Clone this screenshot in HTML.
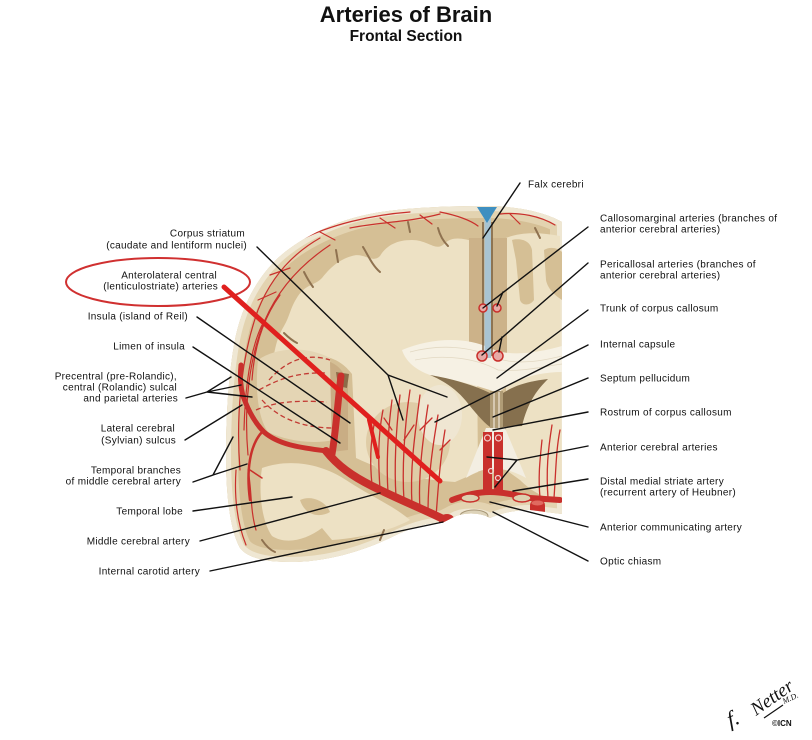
<!DOCTYPE html>
<html><head><meta charset="utf-8"><style>
html,body{margin:0;padding:0;background:#fff;}
svg{display:block;}
.t{font-family:"Liberation Sans",Arial,sans-serif;font-size:10px;letter-spacing:0.3px;fill:#111;}
.r{text-anchor:end;}
.ld{stroke:#111;stroke-width:1.4;fill:none;stroke-linecap:round;}
.v{stroke:#c9302c;fill:none;stroke-linecap:round;}
</style></head><body>
<svg width="812" height="740" viewBox="0 0 812 740" xmlns="http://www.w3.org/2000/svg">
<defs>
<clipPath id="bc"><path d="M562,222 C545,212 515,206 487,206 C455,206 410,207 375,213 C335,220 300,238 278,258 C255,280 240,310 234,345 C228,380 226,420 226,455 C226,495 230,530 240,548 C248,558 265,562 290,562 C325,562 360,552 390,538 C410,528 428,522 442,523 L452,518 C462,512 480,512 490,518 C500,514 512,510 530,510 L562,514 Z"/></clipPath>
</defs>
<rect width="812" height="740" fill="#fff"/>

<!-- Title -->
<text x="406" y="22" text-anchor="middle" style="font-family:'Liberation Sans',Arial,sans-serif;font-weight:bold;font-size:22px;fill:#111">Arteries of Brain</text>
<text x="406" y="41" text-anchor="middle" style="font-family:'Liberation Sans',Arial,sans-serif;font-weight:bold;font-size:15.5px;fill:#111">Frontal Section</text>

<!-- Brain -->
<g clip-path="url(#bc)">
<rect x="220" y="200" width="350" height="370" fill="#d5bf95"/>
<path d="M562,222 C545,212 515,206 487,206 C455,206 410,207 375,213 C335,220 300,238 278,258 C255,280 240,310 234,345 C228,380 226,420 226,455 C226,495 230,530 240,548 C248,558 265,562 290,562 C325,562 360,552 390,538 C410,528 428,522 442,523 L452,518 C462,512 480,512 490,518 C500,514 512,510 530,510 L562,514 Z" fill="none" stroke="#e3d3b0" stroke-width="24"/>
<path d="M562,222 C545,212 515,206 487,206 C455,206 410,207 375,213 C335,220 300,238 278,258 C255,280 240,310 234,345 C228,380 226,420 226,455 C226,495 230,530 240,548 C248,558 265,562 290,562 C325,562 360,552 390,538 C410,528 428,522 442,523 L452,518 C462,512 480,512 490,518 C500,514 512,510 530,510 L562,514 Z" fill="none" stroke="#efe7d3" stroke-width="10"/>

<!-- left hemisphere white matter -->
<path d="M476,242 C462,238 452,236 444,244 C436,252 428,240 412,240 C396,240 386,246 380,256 C372,264 364,252 352,256 C338,260 330,268 322,278 C314,286 306,284 298,296 C290,308 290,316 284,326 C278,336 276,344 274,354 C272,362 274,366 276,370 L300,358 C322,352 340,358 352,374 L356,458 C385,472 420,480 455,482 L478,472 Z" fill="#ede1c4"/>
<!-- operculum / insula area -->
<path d="M258,360 C275,348 305,345 330,358 L334,440 C310,445 285,440 268,432 C258,418 255,390 258,360 Z" fill="#e4d5b4"/>
<path d="M330,362 C338,365 345,372 348,385 L348,450 L332,452 Z" fill="#c9ad84"/>
<path d="M336,372 L349,374 L347,388 L338,386 Z" fill="#8c6c48"/>
<!-- basal ganglia -->
<ellipse cx="408" cy="442" rx="42" ry="40" fill="#dfcca6"/>
<ellipse cx="440" cy="415" rx="22" ry="30" fill="#efe6d2"/>
<!-- right hemisphere white matter -->
<path d="M506,238 C520,232 540,232 560,236 L562,500 C545,500 530,490 520,480 L506,470 Z" fill="#ede1c4"/>
<path d="M512,240 C520,238 530,240 532,250 L534,300 C530,306 522,306 520,300 L516,260 Z" fill="#d5bf95"/>
<path d="M544,250 C550,246 558,248 562,252 L562,300 C556,296 548,290 546,280 Z" fill="#d5bf95"/>
<!-- temporal lobe white matter -->
<path d="M262,468 C290,458 322,464 346,480 C370,496 394,506 410,520 C392,530 362,538 332,540 L322,528 C306,540 286,545 272,536 C262,522 258,492 262,468 Z" fill="#ede1c4"/>
<path d="M300,500 C310,495 325,500 330,512 C320,518 305,516 300,500 Z" fill="#d5bf95"/>
<!-- midline grey near falx -->
<rect x="469" y="238" width="38" height="118" fill="#ccb289"/>
<!-- sulci -->
<g stroke="#8f7250" stroke-width="2" fill="none" stroke-linecap="round">
<path d="M363,247 C368,255 372,265 380,272"/>
<path d="M336,250 L338,262"/>
<path d="M304,272 C307,278 310,283 313,287"/>
<path d="M284,333 C289,338 293,341 297,343"/>
<path d="M438,228 C440,236 444,242 448,246"/>
<path d="M408,222 L410,232"/>
<path d="M262,540 C266,546 270,550 275,552"/>
<path d="M380,540 L384,530"/>
<path d="M535,228 L540,238"/>
</g>
<!-- corpus callosum -->
<path d="M402,350 C430,338 465,336 490,348 C510,358 540,352 562,346 L562,372 C540,372 515,378 498,393 C480,386 455,380 430,375 C416,370 406,362 402,350 Z" fill="#f6f1e4"/>
<g stroke="#e2d8c2" stroke-width="0.8" fill="none">
<path d="M410,352 C440,344 470,346 495,358 C520,366 545,360 562,356"/>
<path d="M415,360 C445,354 475,358 498,370 C525,372 545,366 562,364"/>
</g>
<!-- ventricles -->
<path d="M430,375 C455,379 478,387 490,393 L490,427 C482,421 474,411 466,401 C456,389 444,381 430,375 Z" fill="#86704e"/>
<path d="M503,393 C515,385 530,381 548,379 C538,389 528,401 522,426 L503,427 Z" fill="#86704e"/>
<rect x="490" y="391" width="13" height="37" fill="#b09c76"/>
<line x1="494" y1="392" x2="494" y2="428" stroke="#efe7d6" stroke-width="1.2"/>
<line x1="499" y1="392" x2="499" y2="428" stroke="#efe7d6" stroke-width="1.2"/>
<!-- rostrum tent -->
<path d="M466,478 L486,428 L505,428 L526,478 C512,470 500,468 494,470 C488,468 478,470 466,478 Z" fill="#f3eee2"/>
<!-- falx -->
<line x1="483" y1="222" x2="483" y2="356" stroke="#7a5f40" stroke-width="1.5"/>
<line x1="492" y1="222" x2="492" y2="356" stroke="#7a5f40" stroke-width="1.5"/>
<rect x="484.5" y="212" width="6.5" height="146" fill="#a9c4d2"/>
<polygon points="477,207 497,207 487,223" fill="#3f8fc0"/>
<!-- callosomarginal / pericallosal -->
<g fill="#e7aaa6" stroke="#c9302c" stroke-width="1.5">
<circle cx="483" cy="308" r="4"/><circle cx="497" cy="308" r="4"/>
<circle cx="482" cy="356" r="5"/><circle cx="498" cy="356" r="5"/>
</g>
<!-- surface vessels -->
<g class="v" stroke-width="1.2">
<path d="M240,470 C236,420 240,360 258,310 C270,280 290,255 320,238"/>
<path d="M248,455 C244,410 248,360 265,320 C278,290 300,265 330,245"/>
<path d="M244,430 C245,390 250,350 262,325"/>
<path d="M252,380 C254,350 262,320 280,295"/>
<path d="M300,240 C330,225 370,215 410,212"/>
<path d="M350,228 C380,222 410,222 440,214"/>
<path d="M440,212 C455,215 470,220 478,226"/>
<path d="M500,214 C520,212 540,216 555,225"/>
<path d="M258,300 L276,292"/><path d="M270,275 L290,268"/><path d="M320,232 L335,240"/>
<path d="M380,218 L395,228"/><path d="M420,215 L432,224"/><path d="M510,214 L520,224"/>
<path d="M236,470 C234,500 238,525 246,545"/>
<path d="M248,470 C252,490 250,510 256,530"/>
</g>
<!-- dashed insula -->
<g stroke="#c23a33" stroke-width="1.3" fill="none" stroke-dasharray="5,3">
<path d="M269,380 C285,362 305,352 330,360"/>
<path d="M259,390 C280,378 300,372 327,373"/>
<path d="M256,410 C275,402 295,400 327,402"/>
<path d="M262,400 C280,420 305,428 334,428"/>
</g>
<!-- lenticulostriate -->
<g class="v" stroke-width="1.3">
<path d="M436,517 C438,490 440,460 445,430"/>
<path d="M428,513 C428,480 432,450 438,415"/>
<path d="M420,509 C418,480 422,445 428,405"/>
<path d="M412,505 C410,470 414,440 420,395"/>
<path d="M404,501 C402,470 404,430 410,390"/>
<path d="M396,497 C394,465 396,430 400,395"/>
<path d="M388,493 C386,460 388,430 392,400"/>
<path d="M380,489 C378,460 378,435 383,410"/>
<path d="M372,485 C370,465 370,445 374,425"/>
<path d="M404,440 L414,425"/><path d="M420,430 L432,418"/><path d="M392,430 L384,418"/><path d="M440,450 L450,440"/>
<path d="M548,498 C546,470 548,450 552,425"/>
<path d="M554,498 C556,470 556,450 560,430"/>
<path d="M540,498 C538,475 540,460 542,440"/>
</g>
<!-- MCA -->
<path d="M447,521 C430,512 400,500 372,486 C352,476 338,466 326,451" class="v" stroke-width="8"/>
<path d="M326,451 C305,448 280,446 264,432 C254,422 248,410 243,396 C240,385 240,375 241,365" class="v" stroke-width="5"/>
<path d="M332,454 C336,430 338,400 341,376" class="v" stroke-width="7"/>
<path d="M262,432 C250,445 246,470 250,500" class="v" stroke-width="2.5"/>
<path d="M250,470 L262,478" class="v" stroke-width="1.5"/>
<ellipse cx="447" cy="521" rx="8" ry="7" fill="#c9302c"/>
<!-- ACA -->
<path d="M452,500 C468,494 480,492 490,492 C502,492 516,495 530,498 L560,500" class="v" stroke-width="6"/>
<ellipse cx="470" cy="498" rx="9" ry="4" fill="#ddd0b0" stroke="#c9302c" stroke-width="1.5"/>
<ellipse cx="522" cy="498" rx="9" ry="4" fill="#ddd0b0" stroke="#c9302c" stroke-width="1.5"/>
<rect x="483" y="432" width="9" height="60" fill="#c9302c"/>
<rect x="494" y="432" width="9" height="60" fill="#c9302c"/>
<g fill="none" stroke="#f3d2cf" stroke-width="1.2">
<circle cx="487.5" cy="438" r="3"/><circle cx="498.5" cy="438" r="3"/>
<circle cx="491" cy="471" r="2.5"/><circle cx="498" cy="478" r="2.5"/>
</g>
<rect x="530" y="500" width="15" height="28" rx="5" fill="#c9302c"/>
<ellipse cx="537.5" cy="503" rx="6" ry="2.5" fill="#e06a60"/>
<!-- optic chiasm -->
<ellipse cx="474" cy="516" rx="14" ry="6" fill="#ddd3b9" stroke="#a89878" stroke-width="1"/>
</g>

<!-- Leader lines -->
<g class="ld">
<path d="M257,247 L388,375 L447,397 M388,375 L403,420"/>
<path d="M197,317 L350,423"/>
<path d="M193,347 L340,443"/>
<path d="M186,398 L207,392 L231,377 M207,392 L241,385 M207,392 L252,397"/>
<path d="M185,440 L242,405"/>
<path d="M193,482 L213,475 L233,437 M213,475 L247,464"/>
<path d="M193,511 L292,497"/>
<path d="M200,541 L380,493"/>
<path d="M210,571 L443,522"/>
<path d="M520,183 L483,238"/>
<path d="M588,227 L483,308 M503,292 L497,306"/>
<path d="M588,263 L482,355 M502,337 L499,352"/>
<path d="M588,310 L497,378"/>
<path d="M588,345 L435,422"/>
<path d="M588,378 L493,417"/>
<path d="M588,412 L493,430"/>
<path d="M588,446 L517,460 L487,457 M517,460 L495,487"/>
<path d="M588,479 L513,491"/>
<path d="M588,527 L490,502"/>
<path d="M588,561 L493,512"/>
</g>

<!-- Red annotation -->
<ellipse cx="158" cy="282" rx="92" ry="24" fill="none" stroke="#d03030" stroke-width="2"/>
<line x1="224" y1="287" x2="440" y2="481" stroke="#e0201e" stroke-width="5" stroke-linecap="round"/>
<line x1="369" y1="420" x2="378" y2="457" stroke="#e0201e" stroke-width="4" stroke-linecap="round"/>

<!-- Left labels -->
<text class="t r" x="245" y="236.5">Corpus striatum</text>
<text class="t r" x="247" y="248.5">(caudate and lentiform nuclei)</text>
<text class="t r" x="217" y="278.5">Anterolateral central</text>
<text class="t r" x="218" y="289.5">(lenticulostriate) arteries</text>
<text class="t r" x="188" y="319.5">Insula (island of Reil)</text>
<text class="t r" x="185" y="349.5">Limen of insula</text>
<text class="t r" x="177" y="379.5">Precentral (pre-Rolandic),</text>
<text class="t r" x="177" y="390.5">central (Rolandic) sulcal</text>
<text class="t r" x="178" y="401.5">and parietal arteries</text>
<text class="t r" x="175" y="431.5">Lateral cerebral</text>
<text class="t r" x="176" y="443.5">(Sylvian) sulcus</text>
<text class="t r" x="181" y="473.5">Temporal branches</text>
<text class="t r" x="181" y="484.5">of middle cerebral artery</text>
<text class="t r" x="183" y="514.5">Temporal lobe</text>
<text class="t r" x="190" y="544.5">Middle cerebral artery</text>
<text class="t r" x="200" y="574.5">Internal carotid artery</text>

<!-- Right labels -->
<text class="t" x="528" y="187.5">Falx cerebri</text>
<text class="t" x="600" y="221.5">Callosomarginal arteries (branches of</text>
<text class="t" x="600" y="232.5">anterior cerebral arteries)</text>
<text class="t" x="600" y="267.5">Pericallosal arteries (branches of</text>
<text class="t" x="600" y="278.5">anterior cerebral arteries)</text>
<text class="t" x="600" y="311.5">Trunk of corpus callosum</text>
<text class="t" x="600" y="347.5">Internal capsule</text>
<text class="t" x="600" y="381.5">Septum pellucidum</text>
<text class="t" x="600" y="415.5">Rostrum of corpus callosum</text>
<text class="t" x="600" y="450.5">Anterior cerebral arteries</text>
<text class="t" x="600" y="484.5">Distal medial striate artery</text>
<text class="t" x="600" y="495.5">(recurrent artery of Heubner)</text>
<text class="t" x="600" y="530.5">Anterior communicating artery</text>
<text class="t" x="600" y="564.5">Optic chiasm</text>

<!-- Signature -->
<g style="font-family:'Liberation Serif',serif;font-style:italic;fill:#111">
<text x="730" y="727" font-size="22" transform="rotate(-20 730 727)">f.</text>
<text x="756" y="716" font-size="19" transform="rotate(-35 756 716)">Netter</text>
<text x="784" y="704" font-size="8" transform="rotate(-25 784 704)">M.D.</text>
</g>
<line x1="764" y1="718" x2="783" y2="705" stroke="#111" stroke-width="1.2"/>
<text x="772" y="726" style="font-family:'Liberation Sans',Arial,sans-serif;font-weight:bold;font-size:8px;fill:#111">©ICN</text>
</svg>
</body></html>
